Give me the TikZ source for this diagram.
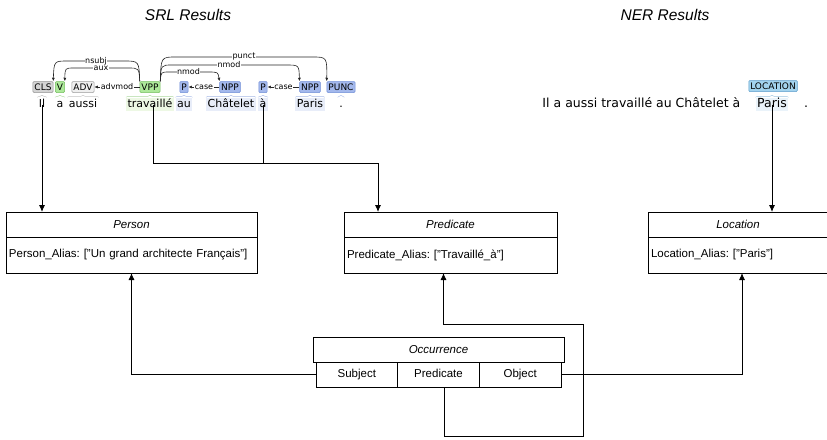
\documentclass[tikz,border=0pt]{standalone}
\usepackage{fontspec}
\setmainfont{Liberation Sans}
\newfontfamily\bratfont{DejaVu Sans}
\frenchspacing
\usetikzlibrary{
    arrows.meta,
    calc,
    positioning,
    decorations.pathreplacing
}
\definecolor{clsfill}{HTML}{D3D3D3}
\definecolor{clsline}{HTML}{949494}
\definecolor{advfill}{HTML}{EFEFEF}
\definecolor{advline}{HTML}{9C9C9C}
\definecolor{vfill}{HTML}{ADE89A}
\definecolor{vline}{HTML}{74BE5E}
\definecolor{nppfill}{HTML}{A3B8EC}
\definecolor{nppline}{HTML}{6E8CD6}
\definecolor{locfill}{HTML}{A3D3EE}
\definecolor{locline}{HTML}{5C9DCB}
\definecolor{wordgreen}{HTML}{EDF8E4}
\definecolor{wordblue}{HTML}{E8EDF9}
\definecolor{nerblue}{HTML}{EAF3FA}

\begin{document}
\begin{tikzpicture}[x=1pt, y=-1pt,
    >={Latex[length=7pt, width=6pt]},
    title/.style={font=\fontsize{15.5}{18}\selectfont\itshape},
    classhead/.style={draw, line width=0.9pt, minimum height=25pt, inner sep=0pt, outer sep=0pt,
        font=\fontsize{11.5}{13}\selectfont\itshape},
    classbody/.style={draw, line width=0.9pt, minimum height=36pt, inner xsep=3pt, outer sep=0pt,
        align=left, font=\fontsize{11.5}{13}\selectfont},
    cell/.style={draw, line width=0.9pt, minimum height=25pt, minimum width=81.67pt, inner sep=0pt,
        outer sep=0pt, text height=8pt, text depth=2.5pt, font=\fontsize{11.5}{13}\selectfont},
    link/.style={line width=0.9pt},
    word/.style={font=\bratfont\fontsize{11}{13}\selectfont, inner xsep=1.5pt, inner ysep=1pt,
        text height=8.5pt, text depth=2.5pt},
    nerword/.style={word, font=\bratfont\fontsize{12.5}{14}\selectfont},
    tag/.style={font=\bratfont\fontsize{9}{10}\selectfont, inner xsep=1.5pt, inner ysep=2pt,
        text height=6.5pt, text depth=0.5pt, rounded corners=1pt, line width=0.5pt, draw},
    tagbrace/.style={draw=#1, line width=0.4pt, decorate, decoration={brace, amplitude=2pt}},
    deparc/.style={line width=0.6pt, draw=black!85, -{Latex[length=3.5pt, width=3pt]}},
    deplabel/.style={font=\bratfont\fontsize{8}{9}\selectfont, fill=white, inner sep=0.5pt}
]
\useasboundingbox (0,0) rectangle (827,439);

\node[title] (srl-title) at (188,15) {SRL Results};
\node[title] (ner-title) at (665,15) {NER Results};

\node[word] (w-il) at (42,104) {Il};
\node[word] (w-a) at (60,104) {a};
\node[word] (w-aussi) at (83,104) {aussi};
\node[word, fill=wordgreen] (w-trav) at (150,104) {travaillé};
\node[word, fill=wordblue] (w-au) at (184,104) {au};
\node[word, fill=wordblue] (w-chat) at (231,104) {Châtelet};
\node[word, fill=wordblue] (w-prep) at (263,104) {à};
\node[word, fill=wordblue] (w-paris) at (310,104) {Paris};
\node[word] (w-dot) at (341,104) {.};

\node[tag, fill=clsfill, draw=clsline] (t-cls) at (43,87) {CLS};
\node[tag, fill=vfill, draw=vline] (t-v) at (60,87) {V};
\node[tag, fill=advfill, draw=advline] (t-adv) at (83,87) {ADV};
\node[tag, fill=vfill, draw=vline] (t-vpp) at (150,87) {VPP};
\node[tag, fill=nppfill, draw=nppline] (t-p1) at (184,87) {P};
\node[tag, fill=nppfill, draw=nppline] (t-npp1) at (230,87) {NPP};
\node[tag, fill=nppfill, draw=nppline] (t-p2) at (263,87) {P};
\node[tag, fill=nppfill, draw=nppline] (t-npp2) at (310,87) {NPP};
\node[tag, fill=nppfill, draw=nppline] (t-punc) at (341,87) {PUNC};

\draw[tagbrace=clsline!60] (w-il.north west) -- (w-il.north east);
\draw[tagbrace=vline!60] (w-a.north west) -- (w-a.north east);
\draw[tagbrace=advline!60] (w-aussi.north west) -- (w-aussi.north east);
\draw[tagbrace=vline!60] (w-trav.north west) -- (w-trav.north east);
\draw[tagbrace=nppline!60] (w-au.north west) -- (w-au.north east);
\draw[tagbrace=nppline!60] (w-chat.north west) -- (w-chat.north east);
\draw[tagbrace=nppline!60] (w-prep.north west) -- (w-prep.north east);
\draw[tagbrace=nppline!60] (w-paris.north west) -- (w-paris.north east);
\draw[tagbrace=nppline!60] (w-dot.north west) -- (w-dot.north east);

\draw[deparc] (t-vpp.north west) .. controls (139,61) .. (124,61) -- node[deplabel]{nsubj} (68,61) .. controls (54,61) .. (t-cls.north east);
\draw[deparc] (t-vpp.north west) .. controls (139,68) .. (128,68) -- node[deplabel]{aux} (74,68) .. controls (65,68) .. (t-v.north east);
\draw[deparc] (t-vpp.west) -- node[deplabel]{advmod} (t-adv.east);
\draw[deparc] (t-vpp.north east) .. controls (161,57) .. (176,57) -- node[deplabel]{punct} (312,57) .. controls (327,57) .. (t-punc.north west);
\draw[deparc] (t-vpp.north east) .. controls (161,65) .. (172,65) -- node[deplabel]{nmod} (286,65) .. controls (299,65) .. (t-npp2.north west);
\draw[deparc] (t-vpp.north east) .. controls (161,72) .. (169,72) -- node[deplabel]{nmod} (208,72) .. controls (218,72) .. (t-npp1.north west);
\draw[deparc] (t-npp1.west) -- node[deplabel]{case} (t-p1.east);
\draw[deparc] (t-npp2.west) -- node[deplabel]{case} (t-p2.east);

\node[nerword, anchor=east] (ner-sent) at (742,104) {Il a aussi travaillé au Châtelet à};
\node[nerword, fill=nerblue] (ner-paris) at (772,104) {Paris};
\node[nerword] (ner-dot) at (806,104) {.};
\node[tag, fill=locfill, draw=locline] (t-loc) at (773,86) {LOCATION};
\draw[tagbrace=locline!60] (ner-paris.north west) -- (ner-paris.north east);

\node[classhead, minimum width=251pt, anchor=north west] (person) at (6,212) {Person};
\node[classbody, text width=245pt, below=0pt of person] (personbody) {Person\_Alias: ["Un grand architecte Français"]};

\node[classhead, minimum width=213pt, anchor=north west] (predicate) at (344,212) {Predicate};
\node[classbody, text width=207pt, below=0pt of predicate] (predbody) {Predicate\_Alias: ["Travaillé\_à"]};

\node[classhead, minimum width=180pt, anchor=north west] (location) at (648,212) {Location};
\node[classbody, text width=174pt, below=0pt of location] (locbody) {Location\_Alias: ["Paris"]};

\node[classhead, minimum width=251pt, anchor=north west] (occurrence) at (313,337) {Occurrence};
\node[cell, anchor=north west] (csubj) at (316,362) {Subject};
\node[cell, right=0pt of csubj] (cpred) {Predicate};
\node[cell, right=0pt of cpred] (cobj) {Object};

\coordinate (predjoin) at (378,163);
\coordinate (loopa) at (583,436);
\coordinate (loopb) at (583,324);

\draw[link, ->] ([yshift=6pt]w-il.south) -- (w-il.south |- person.north);
\draw[link, ->] ([xshift=3pt, yshift=6pt]w-trav.south) |- (predjoin) -- (predjoin |- predicate.north);
\draw[link] ([yshift=6pt]w-prep.south) -- (w-prep.south |- predjoin);
\draw[link, ->] ([yshift=6pt]ner-paris.south) -- (ner-paris.south |- location.north);

\draw[link, ->] (csubj.west) -| (personbody.south);
\draw[link, ->] (cobj.east) -| ([xshift=4pt]locbody.south);
\draw[link, ->] ([xshift=5.5pt]cpred.south) |- (loopa) -- (loopb) -| ([xshift=-7pt]predbody.south);
\end{tikzpicture}
\end{document}
